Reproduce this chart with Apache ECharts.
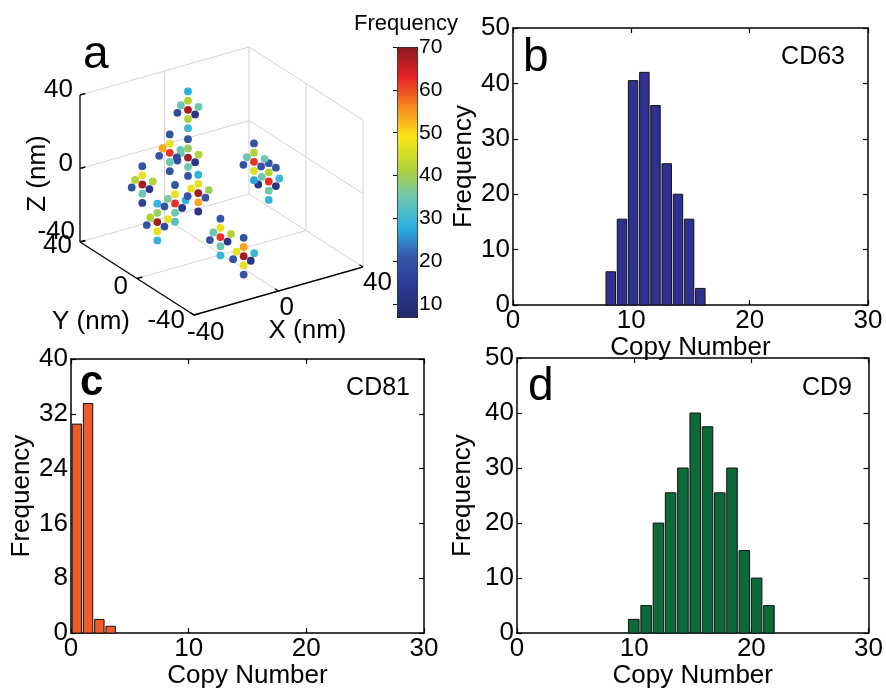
<!DOCTYPE html>
<html>
<head>
<meta charset="utf-8">
<script src="https://cdn.jsdelivr.net/npm/echarts@6/dist/echarts.min.js"></script>
<style>
html, body { margin: 0; padding: 0; background: #fff; }
#main { width: 886px; height: 690px; }
</style>
</head>
<body>
<div id="main"></div>
<script>
const FONT = '"Liberation Sans", Arial, Helvetica, sans-serif'

// ---- panel a: 3D positions (nm) of cluster centres, lattice cross offsets, frequency per site
const clusterCenters = [
    [1, 25, 26], [1, 25, 0], [-11, 20, 9], [-24, 20, -4], [-22, 0, -5], [-27, 5, -16],
    [-11, 0, -3], [12, -5, 9], [19, -5, -4], [-14, -20, -16], [-3, -20, -30]
]
// order: centre, z+5, z+10, z-5, z-10, x+5, x-5, y+5, y-5
const crossOffsets = [
    [0, 0, 0], [0, 0, 5], [0, 0, 10], [0, 0, -5], [0, 0, -10],
    [5, 0, 0], [-5, 0, 0], [0, 5, 0], [0, -5, 0]
]
const clusterFreq = [
    [68, 42, 28, 42, 30, 35, 18, 35, 12],
    [68, 39, 20, 35, 20, 42, 20, 35, 12],
    [62, 47, 20, 35, 20, 35, 20, 54, 18],
    [68, 47, 20, 35, 16, 42, 20, 42, 12],
    [62, 47, 20, 35, 33, 29, 20, 36, 12],
    [68, 39, 29, 47, 29, 47, 20, 42, 18],
    [68, 47, 29, 54, 12, 40, 20, 47, 20],
    [62, 42, 20, 46, 27, 35, 20, 35, 20],
    [62, 42, 20, 35, 29, 30, 12, 35, 12],
    [62, 47, 20, 35, 29, 42, 20, 35, 12],
    [68, 54, 20, 47, 20, 30, 20, 47, 12]
]
const extraPoints = [[19, -10, 6, 20]]
const axis3dTicks = [-40, 0, 40]
const freqTicks = [10, 20, 30, 40, 50, 60, 70]
const jetColors = ['#232a6c', '#2b3990', '#3557a6', '#2bb0e4', '#6cc7b0', '#b3d335',
    '#fde619', '#f68b1f', '#e82127', '#8b1a1c']

// ---- panels b, c, d: histograms
const copyTicks = [0, 10, 20, 30]
const cd63Centers = [8.26, 9.21, 10.15, 11.10, 12.04, 12.99, 13.94, 14.88, 15.83]
const cd63Freq = [6, 15.5, 40.5, 42, 36, 25.5, 20, 15.5, 3]
const cd81Centers = [0.50, 1.45, 2.41, 3.37]
const cd81Freq = [30.5, 33.5, 2, 1]
const cd9Centers = [9.97, 11.02, 12.07, 13.11, 14.16, 15.21, 16.26, 17.31, 18.35, 19.40, 20.45, 21.50]
const cd9Freq = [2.5, 5, 20, 25.5, 30, 40, 37.5, 25.5, 30, 15, 10, 5]

// view of the 3D box (screen px per nm)
const project = (x, y, z) => [2.1125 * x - 1.425 * y, 0.6 * x + 0.9125 * y + 1.8375 * z]
const nearness = p => -2.618 * p[0] - 3.882 * p[1] + 2.783 * p[2]

let points = []
clusterCenters.forEach((c, i) => {
    crossOffsets.forEach((o, j) => {
        points.push([c[0] + o[0], c[1] + o[1], c[2] + o[2], clusterFreq[i][j]])
    })
})
points = points.concat(extraPoints)
points.sort((a, b) => nearness(a) - nearness(b))

// box walls (grey) and axes (black)
const segs = [
    [-40, 40, 40, 40, 40, 40, 0], [-40, 40, 0, 40, 40, 0, 0], [-40, 40, -40, 40, 40, -40, 0],
    [0, 40, -40, 0, 40, 40, 0], [40, 40, -40, 40, 40, 40, 0],
    [40, -40, 40, 40, 40, 40, 0], [40, -40, 0, 40, 40, 0, 0], [40, -40, -40, 40, 40, -40, 0],
    [40, 0, -40, 40, 0, 40, 0], [40, -40, -40, 40, -40, 40, 0],
    [0, -40, -40, 0, 40, -40, 0], [-40, 0, -40, 40, 0, -40, 0],
    [-40, 40, -40, -40, 40, 40, 1], [-40, -40, -40, -40, 40, -40, 1], [-40, -40, -40, 40, -40, -40, 1]
]
axis3dTicks.forEach(v => {
    segs.push([-40, 40, v, -37.5, 40, v, 1])
    segs.push([-40, v, -40, -37.5, v, -40, 1])
    segs.push([v, -40, -40, v, -37.5, -40, 1])
})

const labels3d = [
    { pos: [-40, 40, 40], text: '40', dx: -7, dy: -5, align: 'right' },
    { pos: [-40, 40, 0], text: '0', dx: -7, dy: -5, align: 'right' },
    { pos: [-40, 40, -40], text: '-40', dx: -5, dy: -10, align: 'right' },
    { pos: [-40, 40, -40], text: '40', dx: -8, dy: 4, align: 'right' },
    { pos: [-40, 0, -40], text: '0', dx: -9, dy: 8, align: 'right' },
    { pos: [-40, -40, -40], text: '-40', dx: -9, dy: 6, align: 'right' },
    { pos: [-40, -40, -40], text: '-40', dx: -7, dy: 18, align: 'left' },
    { pos: [0, -40, -40], text: '0', dx: 1, dy: 17, align: 'left' },
    { pos: [40, -40, -40], text: '40', dx: 0, dy: 16, align: 'left' },
    { pos: [-40, 40, 0], text: 'Z (nm)', dx: -42, dy: 5, align: 'center', rot: Math.PI / 2 },
    { pos: [-40, 0, -40], text: 'Y (nm)', dx: -46, dy: 43, align: 'center' },
    { pos: [0, -40, -40], text: 'X (nm)', dx: 29, dy: 40, align: 'center' }
]

const black = '#000'
const tickText = { color: black, fontSize: 26, fontFamily: FONT }

function histAxes(grid, yMax, yStep, nameGapX, nameGapY) {
    const common = {
        gridIndex: grid, type: 'value', splitLine: { show: false },
        axisLine: { show: true, onZero: false, lineStyle: { color: black, width: 1.5 } },
        axisTick: { show: true, inside: true, length: 5, lineStyle: { color: black, width: 1.2 } }
    }
    const xs = [
        Object.assign({}, common, {
            position: 'bottom', min: copyTicks[0], max: copyTicks[copyTicks.length - 1], interval: 10,
            axisLabel: Object.assign({ margin: 3, showMinLabel: true, showMaxLabel: true }, tickText),
            name: 'Copy Number', nameLocation: 'middle', nameGap: nameGapX, nameTextStyle: tickText
        }),
        Object.assign({}, common, {
            position: 'top', min: copyTicks[0], max: copyTicks[copyTicks.length - 1], interval: 10,
            axisLabel: { show: false }
        })
    ]
    const ys = [
        Object.assign({}, common, {
            position: 'left', min: 0, max: yMax, interval: yStep,
            axisLabel: Object.assign({ margin: 3, showMinLabel: true, showMaxLabel: true }, tickText),
            name: 'Frequency', nameLocation: 'middle', nameGap: nameGapY, nameTextStyle: tickText
        }),
        Object.assign({}, common, {
            position: 'right', min: 0, max: yMax, interval: yStep, axisLabel: { show: false }
        })
    ]
    return { xs, ys }
}

function histSeries(xIdx, yIdx, centers, freqs, barW, color) {
    return {
        type: 'custom', xAxisIndex: xIdx, yAxisIndex: yIdx,
        data: centers.map((c, i) => [c, freqs[i]]),
        encode: { x: 0, y: 1 },
        renderItem: (params, api) => {
            const c = api.value(0), h = api.value(1)
            const p0 = api.coord([c - barW / 2, 0])
            const p1 = api.coord([c + barW / 2, h])
            return {
                type: 'rect',
                shape: { x: p0[0], y: p1[1], width: p1[0] - p0[0], height: p0[1] - p1[1] },
                style: { fill: color, stroke: '#111', lineWidth: 1 }
            }
        }
    }
}

const hb = histAxes(2, 50, 10, 22, 35)
const hc = histAxes(3, 40, 8, 25, 36)
const hd = histAxes(4, 50, 10, 26, 41)

const panelText = (x, y, text, size, align, bold) => ({
    type: 'text', x: x, y: y, z: 10,
    style: {
        text: text, fill: black, align: align, verticalAlign: 'middle',
        font: (bold ? 'bold ' : '') + size + 'px ' + FONT
    }
})

const option = {
    animation: false,
    textStyle: { fontFamily: FONT },
    grid: [
        { left: 20, top: 10, width: 420, height: 340 },
        { left: 397, top: 47, width: 20, height: 270 },
        { left: 513, top: 28, width: 355, height: 277 },
        { left: 71, top: 359, width: 353, height: 278 },
        { left: 517, top: 358, width: 352, height: 277 }
    ],
    xAxis: [
        { gridIndex: 0, type: 'value', min: -201.5, max: 218.5, show: false },
        { gridIndex: 1, type: 'value', min: 0, max: 1, show: false },
        ...hb.xs, ...hc.xs, ...hd.xs
    ],
    yAxis: [
        { gridIndex: 0, type: 'value', min: -169, max: 171, show: false },
        {
            gridIndex: 1, type: 'value', min: 7, max: 70, position: 'right',
            axisLine: { show: false }, splitLine: { show: false },
            axisTick: { show: true, inside: true, length: 4, customValues: freqTicks, lineStyle: { color: black } },
            axisLabel: { customValues: freqTicks, color: black, fontSize: 21, margin: 2, fontFamily: FONT }
        },
        ...hb.ys, ...hc.ys, ...hd.ys
    ],
    visualMap: {
        type: 'continuous', min: 7, max: 70, seriesIndex: 2, dimension: 3,
        left: 397, top: 47, itemWidth: 20, itemHeight: 270, padding: 0,
        calculable: false, hoverLink: false,
        borderColor: black, borderWidth: 1,
        inRange: { color: jetColors }
    },
    graphic: [
        panelText(83, 55, 'a', 46, 'left'),
        panelText(523, 58, 'b', 46, 'left'),
        panelText(80, 383, 'c', 42, 'left', true),
        panelText(528, 387, 'd', 46, 'left'),
        panelText(845, 57, 'CD63', 25, 'right'),
        panelText(410, 388, 'CD81', 25, 'right'),
        panelText(852, 388, 'CD9', 25, 'right'),
        panelText(406, 24, 'Frequency', 22, 'center')
    ],
    series: [
        {
            type: 'custom', xAxisIndex: 0, yAxisIndex: 0, data: segs, encode: { x: 0, y: 1 },
            renderItem: (params, api) => {
                const a = api.coord(project(api.value(0), api.value(1), api.value(2)))
                const b = api.coord(project(api.value(3), api.value(4), api.value(5)))
                const axis = api.value(6) === 1
                return {
                    type: 'line',
                    shape: { x1: a[0], y1: a[1], x2: b[0], y2: b[1] },
                    style: { stroke: axis ? black : '#d2d2d2', lineWidth: axis ? 1.3 : 1 }
                }
            }
        },
        {
            type: 'custom', xAxisIndex: 0, yAxisIndex: 0, data: labels3d.map(l => l.pos), encode: { x: 0, y: 1 },
            renderItem: (params, api) => {
                const l = labels3d[params.dataIndex]
                const p = api.coord(project(api.value(0), api.value(1), api.value(2)))
                return {
                    type: 'text', x: p[0] + l.dx, y: p[1] + l.dy, rotation: l.rot || 0,
                    style: { text: l.text, fill: black, align: l.align, verticalAlign: 'middle', font: '26px ' + FONT }
                }
            }
        },
        {
            type: 'custom', xAxisIndex: 0, yAxisIndex: 0, data: points, encode: { x: 0, y: 1 },
            renderItem: (params, api) => {
                const p = api.coord(project(api.value(0), api.value(1), api.value(2)))
                return { type: 'circle', shape: { cx: p[0], cy: p[1], r: 3.9 }, style: { fill: api.visual('color') } }
            }
        },
        histSeries(2, 2, cd63Centers, cd63Freq, 0.8, '#2e3192'),
        histSeries(4, 4, cd81Centers, cd81Freq, 0.8, '#ee5a2a'),
        histSeries(6, 6, cd9Centers, cd9Freq, 0.9, '#0d6b3a')
    ]
}

const chart = echarts.init(document.getElementById('main'))
chart.setOption(option)
</script>
</body>
</html>
